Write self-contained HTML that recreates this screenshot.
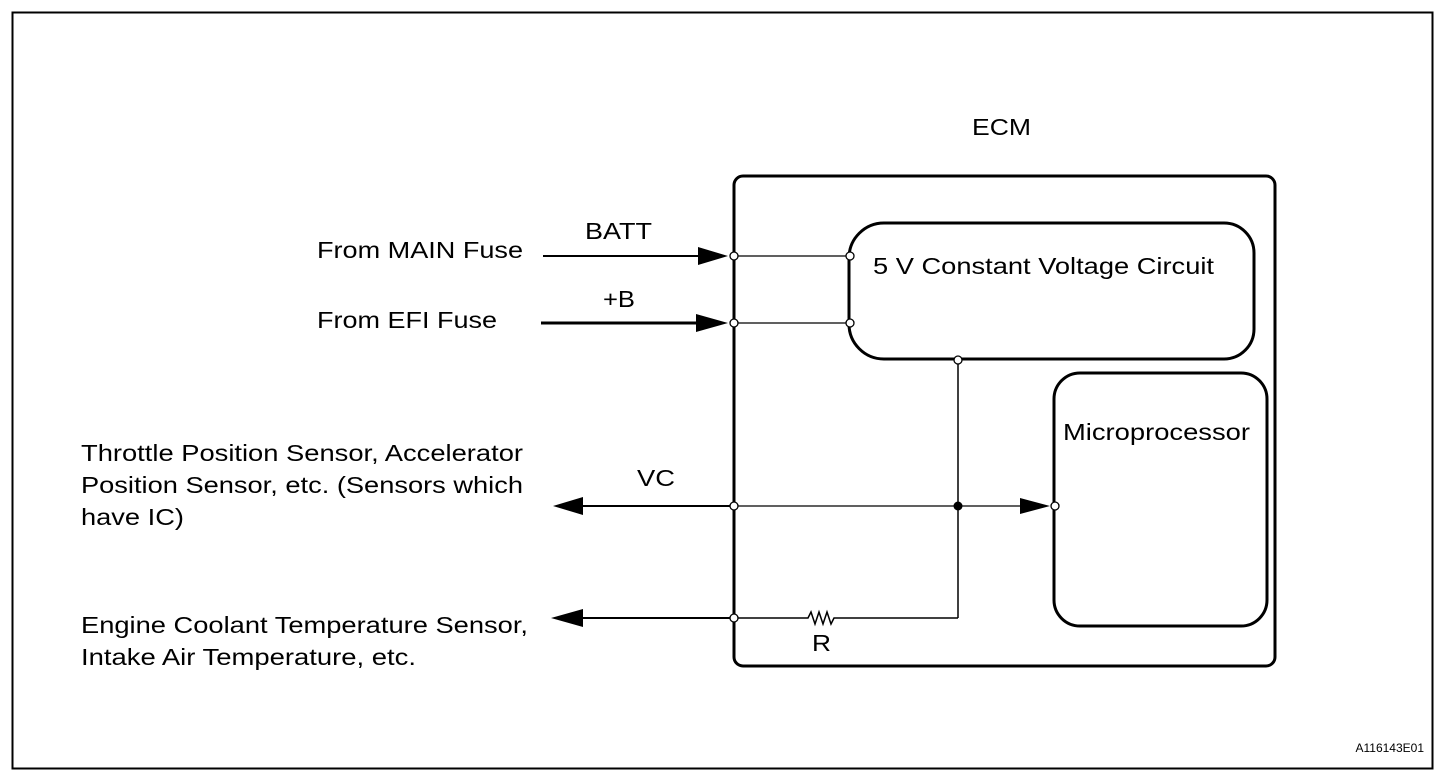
<!DOCTYPE html>
<html><head><style>body{margin:0;background:#fff}svg{display:block}text{font-family:"Liberation Sans",Arial,sans-serif;fill:#000}</style></head>
<body>
<svg width="1456" height="778" viewBox="0 0 1456 778" xmlns="http://www.w3.org/2000/svg">
<rect x="12.5" y="12.5" width="1420" height="756" fill="none" stroke="#000" stroke-width="2"/>
<text x="972" y="135" font-size="23" textLength="59" lengthAdjust="spacingAndGlyphs">ECM</text>
<rect x="734" y="176" width="541" height="490" rx="9" fill="none" stroke="#000" stroke-width="3"/>
<path d="M884 223 H1224 A30 30 0 0 1 1254 253 V329 A30 30 0 0 1 1224 359 H884 A35 35 0 0 1 849 324 V258 A35 35 0 0 1 884 223 Z" fill="none" stroke="#000" stroke-width="3"/>
<text x="873" y="274" font-size="23" textLength="341" lengthAdjust="spacingAndGlyphs">5 V Constant Voltage Circuit</text>
<rect x="1054" y="373" width="213" height="253" rx="26" fill="none" stroke="#000" stroke-width="3"/>
<text x="1063" y="440" font-size="23" textLength="187" lengthAdjust="spacingAndGlyphs">Microprocessor</text>
<g stroke="#000" fill="none">
<line x1="543" y1="256" x2="700" y2="256" stroke-width="2"/>
<line x1="541" y1="323" x2="700" y2="323" stroke-width="3"/>
<line x1="734" y1="256" x2="849" y2="256" stroke-width="1.3"/>
<line x1="734" y1="323" x2="849" y2="323" stroke-width="1.3"/>
<line x1="580" y1="506" x2="734" y2="506" stroke-width="2"/>
<line x1="734" y1="506" x2="1022" y2="506" stroke-width="1.3"/>
<line x1="580" y1="618" x2="734" y2="618" stroke-width="2"/>
<line x1="958" y1="359" x2="958" y2="618" stroke-width="1.5"/>
<polyline points="734,618 808,618 811,612 815,624 819,612 823,624 827,612 831,624 834,618 958,618" stroke-width="1.5"/>
</g>
<g fill="#000">
<polygon points="698,247 728,256 698,265"/>
<polygon points="696,314 728,323 696,332"/>
<polygon points="583,497 553,506 583,515"/>
<polygon points="583,609 551,618 583,627"/>
<polygon points="1020,498 1050,506 1020,514"/>
<circle cx="958" cy="506" r="4.5"/>
</g>
<g fill="#fff" stroke="#000" stroke-width="1.3">
<circle cx="734" cy="256" r="4"/><circle cx="734" cy="323" r="4"/>
<circle cx="734" cy="506" r="4"/><circle cx="734" cy="618" r="4"/>
<circle cx="850" cy="256" r="4"/><circle cx="850" cy="323" r="4"/>
<circle cx="958" cy="360" r="4"/><circle cx="1055" cy="506" r="4"/>
</g>
<g font-size="23" lengthAdjust="spacingAndGlyphs">
<text x="585" y="239" textLength="67" lengthAdjust="spacingAndGlyphs">BATT</text>
<text x="603" y="307" textLength="32" lengthAdjust="spacingAndGlyphs">+B</text>
<text x="637" y="486" textLength="38" lengthAdjust="spacingAndGlyphs">VC</text>
<text x="812" y="651" textLength="19" lengthAdjust="spacingAndGlyphs">R</text>
<text x="317" y="258" textLength="206" lengthAdjust="spacingAndGlyphs">From MAIN Fuse</text>
<text x="317" y="328" textLength="180" lengthAdjust="spacingAndGlyphs">From EFI Fuse</text>
<text x="81" y="461" textLength="442" lengthAdjust="spacingAndGlyphs">Throttle Position Sensor, Accelerator</text>
<text x="81" y="493" textLength="442" lengthAdjust="spacingAndGlyphs">Position Sensor, etc. (Sensors which</text>
<text x="81" y="525" textLength="103" lengthAdjust="spacingAndGlyphs">have IC)</text>
<text x="81" y="633" textLength="447" lengthAdjust="spacingAndGlyphs">Engine Coolant Temperature Sensor,</text>
<text x="81" y="665" textLength="335" lengthAdjust="spacingAndGlyphs">Intake Air Temperature, etc.</text>
</g>
<text x="1424" y="752" font-size="12" text-anchor="end">A116143E01</text>
</svg>
</body></html>
